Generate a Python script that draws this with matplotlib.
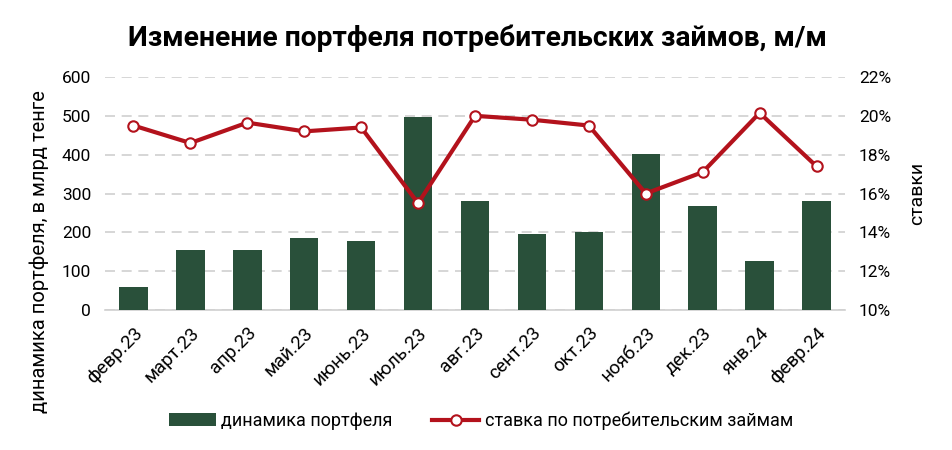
import matplotlib
matplotlib.use('Agg')
import matplotlib.pyplot as plt
from matplotlib.ticker import FuncFormatter

months = ['февр.23', 'март.23', 'апр.23', 'май.23', 'июнь.23', 'июль.23', 'авг.23',
          'сент.23', 'окт.23', 'нояб.23', 'дек.23', 'янв.24', 'февр.24']
portfolio = [60, 155, 155, 185, 177, 496, 280, 195, 200, 401, 267, 126, 280]
rate = [19.5, 18.6, 19.65, 19.2, 19.4, 15.5, 20.0, 19.8, 19.5, 16.0, 17.1, 20.15, 17.4]

plt.rcParams['font.family'] = ['Roboto', 'DejaVu Sans']

GREEN = '#29503a'
RED = '#b3121c'
GRID = '#d0d0d0'

fig = plt.figure(figsize=(9.52, 4.5), dpi=100)
ax = fig.add_axes([105/952, 1 - 310/450, 740/952, 233/450])
ax2 = ax.twinx()

x = range(len(months))
bars = ax.bar(x, portfolio, width=0.5, color=GREEN, zorder=3, label='динамика портфеля')
line, = ax2.plot(x, rate, color=RED, linewidth=3, marker='o', markersize=7.5,
                 markerfacecolor='white', markeredgecolor=RED, markeredgewidth=1.5,
                 zorder=4, label='ставка по потребительским займам')

ax.set_xlim(-0.5, len(months) - 0.5)
ax.set_ylim(0, 600)
ax.set_yticks(range(0, 601, 100))
ax2.set_ylim(10, 22)
ax2.set_yticks(range(10, 23, 2))
ax2.yaxis.set_major_formatter(FuncFormatter(lambda v, p: f'{v:.0f}%'))

ax.yaxis.grid(True, color=GRID, linestyle=(0, (6, 4)), linewidth=1.2, zorder=0)
ax.set_axisbelow(True)

for a in (ax, ax2):
    for s in a.spines.values():
        s.set_visible(False)
    a.tick_params(length=0, labelsize=12.5)
ax.spines['bottom'].set_visible(True)
ax.spines['bottom'].set_color(GRID)
ax.spines['bottom'].set_linewidth(1.2)

ax.set_xticks(list(x))
ax.set_xticklabels(months, rotation=45, ha='right', rotation_mode='anchor', fontsize=13.5)
ax.tick_params(axis='x', pad=10)
ax.tick_params(axis='y', pad=10)
ax2.tick_params(axis='y', pad=10)

ax.set_ylabel('динамика портфеля, в млрд тенге', fontsize=14.5)
ax.yaxis.set_label_coords(-0.075, 0.25)
ax2.set_ylabel('ставки', fontsize=14)
ax2.yaxis.set_label_coords(1.085, 0.5)

fig.suptitle('Изменение портфеля потребительских займов, м/м', x=0.502, y=0.945,
             fontsize=20.3, fontweight='bold')

fig.legend(handles=[bars, line], loc='center', bbox_to_anchor=(0.505, 0.065), ncol=2,
           frameon=False, fontsize=13, handlelength=2.6, columnspacing=2.2, handletextpad=0.3)

plt.savefig('out.png', dpi=100)
